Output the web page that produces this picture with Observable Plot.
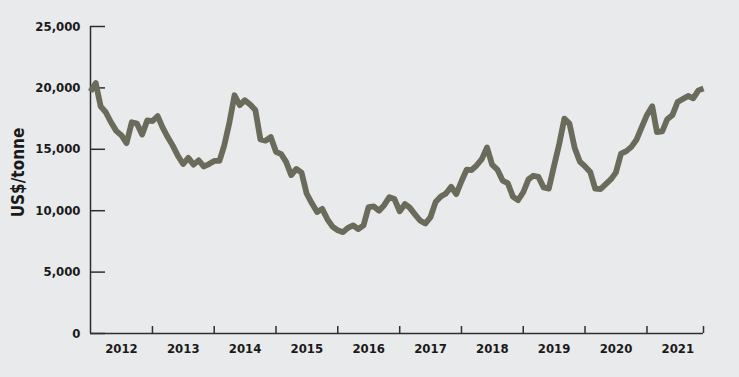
<!DOCTYPE html>
<html>
<head>
<meta charset="utf-8">
<script src="https://cdn.jsdelivr.net/npm/d3@7"></script>
<script src="https://cdn.jsdelivr.net/npm/@observablehq/plot@0.6"></script>
<style>
  html, body { margin: 0; padding: 0; background: #e9eaeb; }
  #chart svg { display: block; background: #e9eaeb; }
</style>
</head>
<body>
<div id="chart"></div>
<script>
// Monthly price, US$/tonne, Jan 2012 .. Dec 2021
const startYear = 2012;
const prices = [
  19700, 20400, 18500, 18000, 17200, 16500, 16150, 15500, 17200, 17100, 16200, 17350,
  17300, 17700, 16800, 16000, 15300, 14450, 13800, 14300, 13750, 14100, 13600, 13800,
  14050, 14050, 15300, 17200, 19400, 18600, 19000, 18650, 18200, 15800, 15700, 16000,
  14800, 14600, 14000, 12900, 13400, 13100, 11400, 10600, 9900, 10150, 9300, 8700,
  8400, 8250, 8600, 8800, 8500, 8800, 10300, 10350, 10000, 10450, 11100, 10950,
  9950, 10550, 10250, 9700, 9200, 8950, 9450, 10700, 11150, 11400, 11950, 11350,
  12400, 13350, 13300, 13700, 14200, 15150, 13750, 13350, 12450, 12250, 11150, 10850,
  11500, 12550, 12850, 12750, 11900, 11800, 13600, 15400, 17500, 17100, 15100, 14000,
  13600, 13150, 11800, 11750, 12150, 12550, 13100, 14650, 14850, 15200, 15800, 16800,
  17800, 18500, 16400, 16450, 17450, 17800, 18850, 19100, 19350, 19150, 19800, 19950
];
const yearLabels = ["2012","2013","2014","2015","2016","2017","2018","2019","2020","2021"];
const yTicks = [0, 5000, 10000, 15000, 20000, 25000];
const yTitle = "US$/tonne";

const data = prices.map((v, i) => ({date: new Date(Date.UTC(startYear, i, 1)), value: v}));
const xStart = data[0].date;
const xEnd = data[data.length - 1].date;
const boundaryTicks = yearLabels.slice(1).map(y => new Date(Date.UTC(+y, 0, 1))).concat([xEnd]);
const labelPos = yearLabels.map(y => new Date(Date.UTC(+y, 6, 2)));

const font = "'DejaVu Sans Condensed', 'DejaVu Sans', sans-serif";
const axisColor = "#2e2e2e";
const textColor = "#1a1a1a";

const chart = Plot.plot({
  width: 739,
  height: 377,
  marginLeft: 90,
  marginRight: 36,
  marginTop: 26,
  marginBottom: 44,
  style: {background: "#e9eaeb", fontFamily: font, fontWeight: "bold", fontStretch: "condensed", color: textColor},
  x: {type: "utc", domain: [xStart, xEnd]},
  y: {domain: [0, 25000]},
  marks: [
    // y tick marks pointing inward
    Plot.axisY({ticks: yTicks, tickSize: 15, dx: 15, text: null, stroke: axisColor, strokeWidth: 1.5, strokeOpacity: 1, label: null}),
    // y tick labels
    Plot.axisY({ticks: yTicks, tickSize: 0, tickPadding: 10, tickFormat: d3.format(","), fontSize: 13, fill: textColor, label: null}),
    // x tick marks (year boundaries) pointing up
    Plot.axisX({ticks: boundaryTicks, tickSize: 7, dy: -7, text: null, stroke: axisColor, strokeWidth: 1.5, strokeOpacity: 1, label: null}),
    // x year labels
    Plot.axisX({ticks: labelPos, tickSize: 0, tickPadding: 10, tickFormat: d => String(d.getUTCFullYear()), fontSize: 13, fill: textColor, label: null}),
    Plot.ruleX([xStart], {stroke: axisColor, strokeWidth: 1.5}),
    Plot.ruleY([0], {stroke: axisColor, strokeWidth: 1.5}),
    Plot.line(data, {x: "date", y: "value", stroke: "#6a6b5b", strokeWidth: 5.8, strokeLinejoin: "round", strokeLinecap: "butt"}),
    Plot.text([yTitle], {frameAnchor: "left", textAnchor: "middle", dx: -72, dy: -7.5, rotate: -90, fontSize: 17, fontWeight: "bold", fill: textColor})
  ]
});
document.getElementById("chart").appendChild(chart);
</script>
</body>
</html>
